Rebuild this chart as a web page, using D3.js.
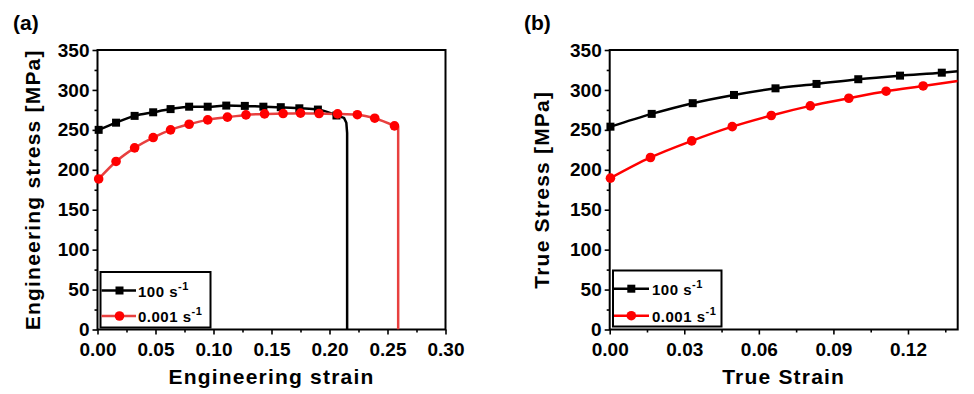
<!DOCTYPE html>
<html>
<head>
<meta charset="utf-8">
<script src="https://cdn.jsdelivr.net/npm/d3@7"></script>
<style>
html,body{margin:0;padding:0;background:#fff;}
svg{display:block;}
text{font-family:"Liberation Sans",Arial,sans-serif;font-weight:bold;fill:#000;}
</style>
</head>
<body>
<svg id="chart" width="974" height="394"></svg>
<script>
// ---------- data ----------
const seriesNames = ["100", "0.001"];
const seriesColors = ["#000000", "#ff0000"];

// (a) engineering stress-strain, markers
const engStrain100 = [0.001, 0.016, 0.032, 0.048, 0.063, 0.079, 0.095, 0.111, 0.127, 0.143, 0.158, 0.174, 0.190, 0.206];
const engStress100 = [250, 259, 267.5, 272, 276, 279, 279, 280.4, 280, 279, 278.4, 277, 275.4, 268];
// tail of curve to fracture (100 s^-1)
const engTailStrain100 = [0.206, 0.2125, 0.2145, 0.2152, 0.2152];
const engTailStress100 = [268, 265, 259, 246, 0];

const engStrain0001 = [0.001, 0.016, 0.032, 0.048, 0.063, 0.079, 0.095, 0.112, 0.128, 0.144, 0.160, 0.175, 0.191, 0.207, 0.224, 0.239, 0.256];
const engStress0001 = [188.5, 210.4, 227.5, 240.4, 250, 257, 262.5, 265.9, 268.7, 270, 270.4, 270.9, 270.4, 270, 269, 264.6, 255];
const engTailStrain0001 = [0.256, 0.2592, 0.2592];
const engTailStress0001 = [255, 254, 0];

// (b) true stress-strain, markers
const trueStrain100 = [0.0003, 0.0169, 0.0334, 0.050, 0.0667, 0.0832, 0.100, 0.1168, 0.1336];
const trueStress100 = [254, 270, 283.4, 293.7, 302, 307.5, 313.4, 317.9, 321.6];
const trueEndStrain100 = 0.14, trueEndStress100 = 323.3;

const trueStrain0001 = [0.0003, 0.0164, 0.033, 0.0493, 0.065, 0.0807, 0.0962, 0.1112, 0.1261];
const trueStress0001 = [189.5, 215.4, 236.2, 254, 268, 280, 289.6, 298.4, 305];
const trueEndStrain0001 = 0.14, trueEndStress0001 = 311.2;

// ticks
const yTicks = [0, 50, 100, 150, 200, 250, 300, 350];
const yMinor = [25, 75, 125, 175, 225, 275, 325];
const xTicksA = [0, 0.05, 0.10, 0.15, 0.20, 0.25, 0.30];
const xMinorA = [0.025, 0.075, 0.125, 0.175, 0.225, 0.275];
const xTicksB = [0, 0.03, 0.06, 0.09, 0.12];
const xMinorB = [0.015, 0.045, 0.075, 0.105, 0.135];

// ---------- drawing ----------
const svg = d3.select("#chart");
const plotTop = 50, plotBottom = 329.5;

function panel(cfg) {
  const g = svg.append("g");
  const x = d3.scaleLinear().domain(cfg.xDomain).range([cfg.left, cfg.right]);
  const y = d3.scaleLinear().domain([0, 350]).range([plotBottom, plotTop]);

  // axes
  const fmtY = d3.format("d");
  const xAx = d3.axisBottom(x).tickValues(cfg.xTicks).tickFormat(d3.format(".2f")).tickSize(5).tickPadding(8.5);
  const xAxG = g.append("g").attr("transform", `translate(0,${plotBottom})`).call(xAx);
  const xMin = d3.axisBottom(x).tickValues(cfg.xMinor).tickFormat("").tickSize(3);
  g.append("g").attr("transform", `translate(0,${plotBottom})`).call(xMin);
  const yAx = d3.axisLeft(y).tickValues(yTicks).tickFormat(fmtY).tickSize(5).tickPadding(3);
  g.append("g").attr("transform", `translate(${cfg.left},0)`).call(yAx);
  const yMin = d3.axisLeft(y).tickValues(yMinor).tickFormat("").tickSize(3);
  g.append("g").attr("transform", `translate(${cfg.left},0)`).call(yMin);

  g.selectAll(".tick line").attr("stroke", "#000").attr("stroke-width", 1.6);
  g.selectAll(".domain").remove();
  g.selectAll(".tick text").style("font-size", "19px").attr("fill", "#000");
  xAxG.selectAll(".tick text").attr("dy", "0.71em");

  // frame
  g.append("rect").attr("x", cfg.left).attr("y", plotTop)
    .attr("width", cfg.right - cfg.left).attr("height", plotBottom - plotTop)
    .attr("fill", "none").attr("stroke", "#000").attr("stroke-width", 2);

  // series
  const clipId = "clip" + cfg.id;
  svg.append("defs").append("clipPath").attr("id", clipId)
    .append("rect").attr("x", cfg.left).attr("y", plotTop - 10)
    .attr("width", cfg.right - cfg.left).attr("height", plotBottom - plotTop + 10);
  const plot = g.append("g").attr("clip-path", `url(#${clipId})`);

  cfg.series.forEach((s) => {
    const pts = s.xs.map((v, k) => [v, s.ys[k]]);
    const smooth = d3.line().x(d => x(d[0])).y(d => y(d[1])).curve(d3.curveMonotoneX);
    const lin = d3.line().x(d => x(d[0])).y(d => y(d[1]));
    const linePts = s.endX !== undefined ? pts.concat([[s.endX, s.endY]]) : pts;
    plot.append("path").attr("d", smooth(linePts)).attr("fill", "none")
      .attr("stroke", s.lineColor).attr("stroke-width", 2.5);
    if (s.tailX) {
      const tail = s.tailX.map((v, k) => [v, s.tailY[k]]);
      plot.append("path").attr("d", lin(tail)).attr("fill", "none")
        .attr("stroke", s.lineColor).attr("stroke-width", 2.5).attr("stroke-linejoin", "round");
    }
  });
  cfg.series.forEach((s) => {
    const pts = s.xs.map((v, k) => [v, s.ys[k]]);
    if (s.shape === "square") {
      g.append("g").selectAll("rect").data(pts).join("rect")
        .attr("x", d => x(d[0]) - 4).attr("y", d => y(d[1]) - 4)
        .attr("width", 8).attr("height", 8).attr("fill", s.color);
    } else {
      g.append("g").selectAll("circle").data(pts).join("circle")
        .attr("cx", d => x(d[0])).attr("cy", d => y(d[1])).attr("r", 4.8).attr("fill", s.color);
    }
  });

  // legend
  const L = cfg.legend;
  g.append("rect").attr("x", L.x0).attr("y", L.y0).attr("width", L.x1 - L.x0).attr("height", L.y1 - L.y0)
    .attr("fill", "#fff").attr("stroke", "#000").attr("stroke-width", 2);
  cfg.series.forEach((s, i) => {
    const yy = L.rows[i];
    g.append("line").attr("x1", L.x0 + 1).attr("x2", L.lineEnd).attr("y1", yy).attr("y2", yy)
      .attr("stroke", s.lineColor).attr("stroke-width", 2.5);
    if (s.shape === "square") {
      g.append("rect").attr("x", L.mark - 4).attr("y", yy - 4).attr("width", 8).attr("height", 8).attr("fill", s.color);
    } else {
      g.append("circle").attr("cx", L.mark).attr("cy", yy).attr("r", 4.8).attr("fill", s.color);
    }
    const t = g.append("text").attr("x", L.text).attr("y", yy + 6).style("font-size", "15px").style("letter-spacing", "0.5px");
    t.append("tspan").text(s.name + " s");
    t.append("tspan").attr("dy", -7).style("font-size", "11px").text("-1");
  });

  // titles
  g.append("text").attr("x", (cfg.left + cfg.right) / 2).attr("y", 384)
    .attr("text-anchor", "middle").style("font-size", "21px").style("letter-spacing", "1.2px").text(cfg.xTitle);
  g.append("text").attr("transform", `translate(${cfg.yTitleX},${(plotTop + plotBottom) / 2}) rotate(-90)`)
    .attr("text-anchor", "middle").style("font-size", "21px").style("letter-spacing", "1.2px").text(cfg.yTitle);
  g.append("text").attr("x", cfg.labelX).attr("y", 30).style("font-size", "21px").text(cfg.label);
}

panel({
  id: "a", left: 97.5, right: 445.5, xDomain: [0, 0.30], xTicks: xTicksA, xMinor: xMinorA,
  xTitle: "Engineering strain", yTitle: "Engineering stress [MPa]", yTitleX: 40, label: "(a)", labelX: 13,
  series: [
    { name: seriesNames[0], xs: engStrain100, ys: engStress100, tailX: engTailStrain100, tailY: engTailStress100,
      color: seriesColors[0], lineColor: seriesColors[0], shape: "square" },
    { name: seriesNames[1], xs: engStrain0001, ys: engStress0001, tailX: engTailStrain0001, tailY: engTailStress0001,
      color: seriesColors[1], lineColor: "#e8403f", shape: "circle" }
  ],
  legend: { x0: 100.5, x1: 210.5, y0: 272, y1: 327.5, rows: [290.5, 316], lineEnd: 136, mark: 119.5, text: 138 }
});

panel({
  id: "b", left: 609.7, right: 957.7, xDomain: [0, 0.14], xTicks: xTicksB, xMinor: xMinorB,
  xTitle: "True Strain", yTitle: "True Stress [MPa]", yTitleX: 549, label: "(b)", labelX: 524,
  series: [
    { name: seriesNames[0], xs: trueStrain100, ys: trueStress100, endX: trueEndStrain100, endY: trueEndStress100,
      color: seriesColors[0], lineColor: seriesColors[0], shape: "square" },
    { name: seriesNames[1], xs: trueStrain0001, ys: trueStress0001, endX: trueEndStrain0001, endY: trueEndStress0001,
      color: seriesColors[1], lineColor: seriesColors[1], shape: "circle" }
  ],
  legend: { x0: 613, x1: 721.5, y0: 270.5, y1: 326.5, rows: [288.7, 315.7], lineEnd: 649, mark: 631.3, text: 652 }
});
</script>
</body>
</html>
